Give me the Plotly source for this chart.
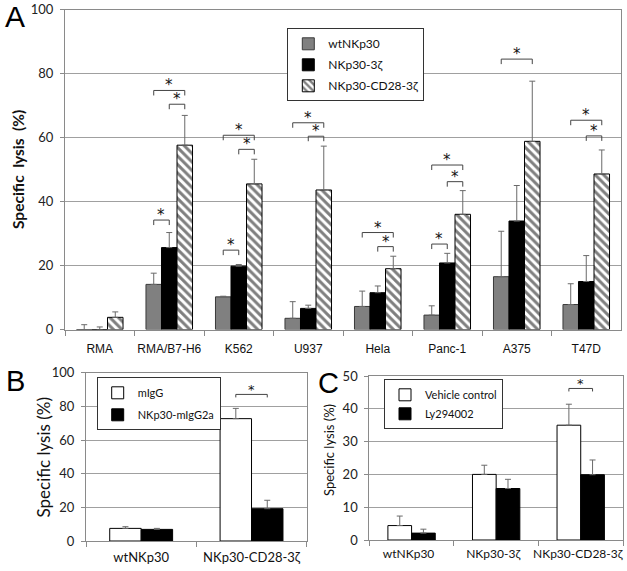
import plotly.graph_objects as go

W, H = 627, 571

# ---------------- Panel A data ----------------
cats_a = ["RMA", "RMA/B7-H6", "K562", "U937", "Hela", "Panc-1", "A375", "T47D"]
wt_a = [0, 14.1, 10.2, 3.5, 7.2, 4.5, 16.5, 7.8]
wt_a_err = [1.5, 3.5, 0.2, 5.2, 4.8, 2.9, 14.2, 6.5]
z_a = [0, 25.6, 19.8, 6.6, 11.5, 20.8, 33.9, 15.0]
z_a_err = [0.8, 4.7, 0.5, 1.0, 2.1, 3.0, 11.1, 8.1]
cd28_a = [3.8, 57.6, 45.5, 43.6, 19.0, 36.0, 58.8, 48.6]
cd28_a_err = [1.7, 9.3, 7.7, 13.7, 3.9, 7.4, 18.8, 7.5]
# significance brackets: (category index, bar i, bar j, bracket level %)
sig_a = [(1, 0, 1, 34.2), (1, 1, 2, 70.4), (1, 0, 2, 74.7),
         (2, 0, 1, 24.8), (2, 1, 2, 56.3), (2, 0, 2, 60.7),
         (3, 1, 2, 60.4), (3, 0, 2, 64.6),
         (4, 1, 2, 25.9), (4, 0, 2, 30.3),
         (5, 0, 1, 26.7), (5, 1, 2, 46.2), (5, 0, 2, 51.4),
         (6, 0, 2, 84.5),
         (7, 1, 2, 60.5), (7, 0, 2, 65.4)]

# ---------------- Panel B data ----------------
cats_b = ["wtNKp30", "NKp30-CD28-3ζ"]
migg_b = [7.5, 72.7]
migg_b_err = [1.0, 6.1]
fc_b = [6.9, 19.2]
fc_b_err = [0.6, 5.0]
sig_b = [(1, 0, 1, 87.1)]

# ---------------- Panel C data ----------------
cats_c = ["wtNKp30", "NKp30-3ζ", "NKp30-CD28-3ζ"]
veh_c = [4.4, 20.0, 35.0]
veh_c_err = [2.9, 2.8, 6.4]
ly_c = [2.1, 15.7, 19.9]
ly_c_err = [1.2, 2.8, 4.5]
sig_c = [(2, 0, 1, 46.2)]

GAP_A, GAP_B, GAP_C = 0.33, 0.43, 0.44
TICKF = dict(family="Lato", size=13, color="#222")
ERRC = "#6a6a6a"


def err(arr, w=3):
    return dict(type="data", array=arr, arrayminus=[0] * len(arr), symmetric=False,
                color=ERRC, thickness=1, width=w)


def slot(i, n, gap):
    w = (1 - gap) / n
    return dict(offset=-(1 - gap) / 2 + i * w, width=w)


fig = go.Figure()

# Panel A bars
fig.add_trace(go.Bar(x=cats_a, y=wt_a, name="wtNKp30", error_y=err(wt_a_err), **slot(0, 3, GAP_A),
                     marker=dict(color="#808080", line=dict(color="#3a3a3a", width=1)),
                     xaxis="x", yaxis="y", legend="legend", legendgroup="a1"))
fig.add_trace(go.Bar(x=cats_a, y=z_a, name="NKp30-3ζ", error_y=err(z_a_err), **slot(1, 3, GAP_A),
                     marker=dict(color="#000000", line=dict(color="#000000", width=1)),
                     xaxis="x", yaxis="y", legend="legend", legendgroup="a2"))
fig.add_trace(go.Bar(x=cats_a, y=cd28_a, name="NKp30-CD28-3ζ", error_y=err(cd28_a_err), **slot(2, 3, GAP_A),
                     marker=dict(color="#ffffff", line=dict(color="#000000", width=1),
                                 pattern=dict(shape="\\", fgcolor="#000000", bgcolor="#ffffff",
                                              size=6, solidity=0.5)),
                     xaxis="x", yaxis="y", legend="legend", legendgroup="a3"))

# Panel B bars
fig.add_trace(go.Bar(x=cats_b, y=migg_b, name="mIgG", error_y=err(migg_b_err), **slot(0, 2, GAP_B),
                     marker=dict(color="#ffffff", line=dict(color="#000000", width=1)),
                     xaxis="x2", yaxis="y2", legend="legend2", legendgroup="b1"))
fig.add_trace(go.Bar(x=cats_b, y=fc_b, name="NKp30-mIgG2a", error_y=err(fc_b_err), **slot(1, 2, GAP_B),
                     marker=dict(color="#000000", line=dict(color="#000000", width=1)),
                     xaxis="x2", yaxis="y2", legend="legend2", legendgroup="b2"))

# Panel C bars
fig.add_trace(go.Bar(x=cats_c, y=veh_c, name="Vehicle control", error_y=err(veh_c_err), **slot(0, 2, GAP_C),
                     marker=dict(color="#ffffff", line=dict(color="#000000", width=1)),
                     xaxis="x3", yaxis="y3", legend="legend3", legendgroup="c1"))
fig.add_trace(go.Bar(x=cats_c, y=ly_c, name="Ly294002", error_y=err(ly_c_err), **slot(1, 2, GAP_C),
                     marker=dict(color="#000000", line=dict(color="#000000", width=1)),
                     xaxis="x3", yaxis="y3", legend="legend3", legendgroup="c2"))


def brackets(sig, nbars, gap, xref, yref, tick_px, star_size, shift):
    w = (1 - gap) / nbars
    for k, i, j, lvl in sig:
        xi = k + (i - (nbars - 1) / 2) * w
        xj = k + (j - (nbars - 1) / 2) * w
        fig.add_shape(type="path", xref=xref, yref=yref, ysizemode="pixel", yanchor=lvl,
                      path=f"M {xi},{-tick_px} L {xi},0 L {xj},0 L {xj},{-tick_px}",
                      line=dict(color="#444444", width=1), layer="above")
        fig.add_annotation(x=(xi + xj) / 2, y=lvl, xref=xref, yref=yref, text="*",
                           showarrow=False, yanchor="bottom", yshift=shift,
                           font=dict(family="DejaVu Sans", size=star_size, color="#111111"))


brackets(sig_a, 3, GAP_A, "x", "y", 5, 15, -6)
brackets(sig_b, 2, GAP_B, "x2", "y2", 3, 13, -5)
brackets(sig_c, 2, GAP_C, "x3", "y3", 3, 13, -5)


def xax(domain, anchor, font, standoff, shift=0):
    return dict(domain=domain, anchor=anchor, type="category", showline=True, linecolor="#8a8a8a",
                mirror=True, ticks="outside", tickson="boundaries", ticklen=5, tickcolor="#8a8a8a",
                tickfont=font, showgrid=False, ticklabelstandoff=standoff, ticklabelshift=shift,
                fixedrange=True, tickangle=0, automargin=False)


def yax(domain, anchor, rng, dtick):
    return dict(domain=domain, anchor=anchor, range=rng, dtick=dtick, showline=True,
                linecolor="#8a8a8a", mirror=True, ticks="outside", ticklen=4, tickcolor="#8a8a8a",
                showgrid=True, gridcolor="#a0a0a0", gridwidth=1, zeroline=False, tickfont=TICKF,
                ticklabelstandoff=4, fixedrange=True, automargin=False)


ya_dom = [1 - 329.5 / H, 1 - 9.5 / H]
yb_dom = [1 - 541 / H, 1 - 372.7 / H]
yc_dom = [1 - 540 / H, 1 - 376 / H]

fig.update_layout(
    width=W, height=H, margin=dict(l=0, r=0, t=0, b=0, autoexpand=False),
    paper_bgcolor="white", plot_bgcolor="white",
    barmode="overlay",
    showlegend=True,
    xaxis=xax([65 / W, 621 / W], "y", dict(family="Liberation Sans", size=12, color="#111"), 8),
    yaxis=yax(ya_dom, "x", [0, 100], 20),
    xaxis2=xax([86 / W, 306.7 / W], "y2", dict(family="Lato", size=13, color="#111"), 4),
    yaxis2=yax(yb_dom, "x2", [0, 100], 20),
    xaxis3=xax([369.3 / W, 623 / W], "y3", dict(family="Lato", size=12, color="#111"), 3, -3),
    yaxis3=yax(yc_dom, "x3", [0, 50], 10),
    legend=dict(x=287.3 / W, y=1 - 28.3 / H, xanchor="left", yanchor="top",
                bordercolor="#333", borderwidth=1, bgcolor="white", traceorder="grouped",
                tracegroupgap=2, font=dict(family="Lato", size=12, color="#111")),
    legend2=dict(x=96.7 / W, y=1 - 377.3 / H, xanchor="left", yanchor="top",
                 bordercolor="#333", borderwidth=1, bgcolor="white", traceorder="grouped",
                 tracegroupgap=3, font=dict(family="Lato", size=11, color="#111")),
    legend3=dict(x=384 / W, y=1 - 379.3 / H, xanchor="left", yanchor="top",
                 bordercolor="#333", borderwidth=1, bgcolor="white", traceorder="grouped",
                 tracegroupgap=0, font=dict(family="Lato", size=11, color="#111")),
)

# titles and panel letters
for txt, px, py, sz in [("<b>Specific  lysis  (%)</b>", 18, 170, 15.5),
                        ("Specific lysis (%)", 42.5, 458, 17),
                        ("Specific lysis (%)", 329, 450, 13)]:
    fig.add_annotation(x=px / W, y=1 - py / H, xref="paper", yref="paper", text=txt,
                       textangle=-90, showarrow=False, xanchor="center", yanchor="middle",
                       font=dict(family="Lato", size=sz, color="#111"))
for letter, px, py, sz in [("A", 15, 17, 30), ("B", 15, 381, 29), ("C", 328, 383, 29)]:
    fig.add_annotation(x=px / W, y=1 - py / H, xref="paper", yref="paper", text=letter,
                       showarrow=False, xanchor="center", yanchor="middle",
                       font=dict(family="Liberation Sans", size=sz, color="#000"))

fig.write_html("out.html", config={"displayModeBar": False},
               post_script="document.body.style.margin='0px';")
